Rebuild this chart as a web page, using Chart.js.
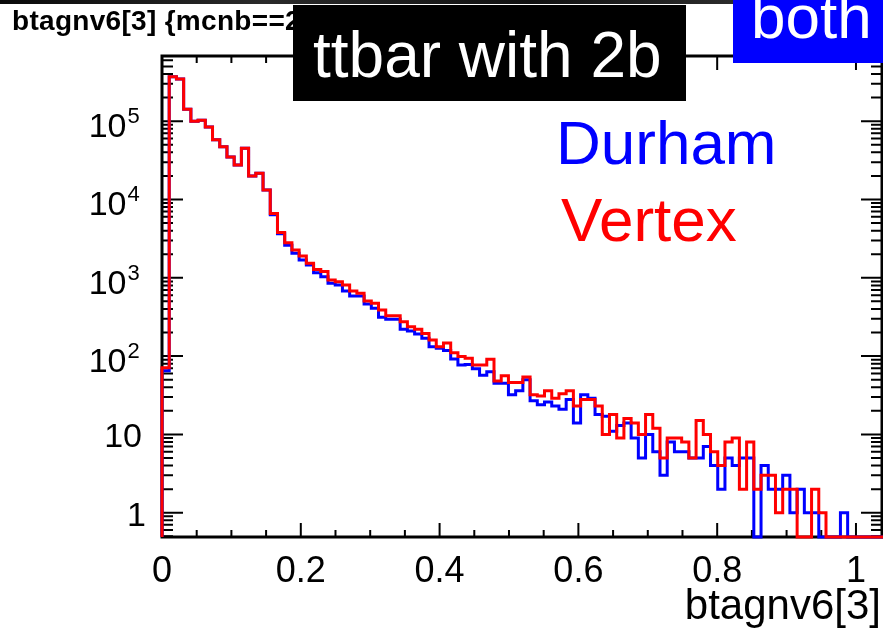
<!DOCTYPE html>
<html><head><meta charset="utf-8">
<script src="https://cdn.jsdelivr.net/npm/chart.js@4/dist/chart.umd.min.js"></script>
<style>
html,body{margin:0;padding:0;background:#fff;overflow:hidden;width:883px;height:630px;}
#wrap{position:relative;width:883px;height:630px;overflow:hidden;background:#fff;}
canvas{position:absolute;left:0;top:0;}
.t{position:absolute;white-space:nowrap;font-family:"Liberation Sans",Arial,Helvetica,sans-serif;line-height:1;}
#band{position:absolute;left:0;top:0;width:883px;height:4px;background:linear-gradient(to right,#0a0a0a,#2a2a2a 30%,#111 60%,#2e2e2e 85%,#0a0a0a);}
#title{left:12px;top:7px;font-size:28px;font-weight:bold;color:#000;letter-spacing:0.3px;}
#box1{position:absolute;left:293px;top:5px;width:393px;height:96px;background:#000;}
#box1 .t{left:20px;top:18px;font-size:64px;color:#fff;}
#box2{position:absolute;left:733px;top:0px;width:160px;height:63px;background:#0000ff;overflow:hidden;}
#box2 .t{left:18px;top:-14px;font-size:62px;color:#fff;}
#leg1{left:556px;top:112px;font-size:62px;color:#0000ff;}
#leg2{left:561px;top:189px;font-size:62px;color:#ff0000;}
</style></head><body>
<div id="wrap">
<canvas id="c" width="883" height="630"></canvas>
<div id="band"></div>
<div class="t" id="title">btagnv6[3] {mcnb==2}</div>
<div id="box1"><div class="t">ttbar with 2b</div></div>
<div id="box2"><div class="t">both</div></div>
<div class="t" id="leg1">Durham</div>
<div class="t" id="leg2">Vertex</div>
</div>
<script>
// ---- data ----
const nBins = 100;
const binWidth = 0.0104;           // histogram bin width in btagnv6[3]
const seriesNames = ['Vertex', 'Durham'];
// Vertex (red), counts per bin
const vertexCounts = [
  71, 370000, 345000, 142000, 100000, 103000, 84000, 58000, 47000, 35000,
  27600, 45000, 20000, 21600, 13200, 6600, 3800, 2800, 2260, 1900,
  1530, 1280, 1200, 937, 892, 809, 678, 633, 505, 472,
  388, 328, 328, 275, 237, 220, 195, 160, 132, 147,
  110, 99, 94, 77, 77, 91, 48, 56, 46, 46,
  54, 32, 31, 36, 29, 33, 36, 23, 28, 28,
  23, 10, 18, 9, 16, 14, 10, 18, 12, 5,
  9, 9, 8, 5, 15, 10, 6, 4, 8, 9,
  2, 8, 2, 3, 3, 1, 2, 2, 0, 0,
  2, 1, 0, 0, 0, 0, 0, 0, 0, 0
];
// Durham (blue), counts per bin
const durhamCounts = [
  65, 370000, 345000, 142000, 100000, 103000, 84000, 58000, 47000, 35000,
  27600, 45000, 20000, 21600, 13200, 6400, 3650, 2600, 2060, 1690,
  1460, 1160, 1030, 850, 809, 678, 586, 586, 463, 408,
  313, 295, 295, 220, 209, 191, 169, 132, 126, 118,
  92, 77, 78, 69, 57, 63, 45, 45, 32, 36,
  50, 27, 24, 26, 23, 21, 28, 14, 32, 29,
  18, 17, 11, 13, 14, 9, 5, 10, 6, 3,
  8, 6, 6, 5, 5, 7, 4, 2, 5, 4,
  5, 5, 0, 4, 2, 2, 3, 1, 2, 1,
  1, 0, 0, 0, 1, 0, 0, 0, 0, 0
];
const xTickLabels = ['0', '0.2', '0.4', '0.6', '0.8', '1'];
const xTickValues = [0, 0.2, 0.4, 0.6, 0.8, 1.0];
const yTickValues = [1, 10, 100, 1000, 10000, 100000];
const yTickBase = ['1', '10', '10', '10', '10', '10'];
const yTickExp = ['', '', '2', '3', '4', '5'];
const xTitle = 'btagnv6[3]';

// ---- axis ranges ----
const X_MIN = 0, X_MAX = 1.0375;
const Y_MIN = 0.4896, Y_MAX = 6.8e5;

function histPoints(vals) {
  const pts = [{x: X_MIN, y: Y_MIN}];
  vals.forEach((v, i) => pts.push({x: i * binWidth, y: v > 0 ? v : Y_MIN}));
  const last = vals[vals.length - 1];
  pts.push({x: nBins * binWidth, y: last > 0 ? last : Y_MIN});
  pts.push({x: nBins * binWidth, y: Y_MIN});
  return pts;
}

const FONT = '"Liberation Sans", Arial, Helvetica, sans-serif';

const rootFrame = {
  id: 'rootFrame',
  beforeDatasetsDraw(chart) {
    const {ctx, chartArea: a, scales: {x, y}} = chart;
    ctx.save();
    ctx.strokeStyle = '#000';
    ctx.lineWidth = 2;
    for (let d = -1; d <= 6; d++) {
      for (let m = 1; m <= 9; m++) {
        const v = m * Math.pow(10, d);
        if (v < Y_MIN || v > Y_MAX) continue;
        const py = y.getPixelForValue(v);
        const len = m === 1 ? 21 : 11;
        ctx.beginPath();
        ctx.moveTo(a.left, py); ctx.lineTo(a.left + len, py);
        ctx.moveTo(a.right, py); ctx.lineTo(a.right - len, py);
        ctx.stroke();
      }
    }
    for (let i = 0; i * 0.05 <= X_MAX + 1e-9; i++) {
      const px = x.getPixelForValue(i * 0.05);
      const len = i % 4 === 0 ? 14 : 7;
      ctx.beginPath();
      ctx.moveTo(px, a.bottom); ctx.lineTo(px, a.bottom - len);
      ctx.moveTo(px, a.top); ctx.lineTo(px, a.top + len);
      ctx.stroke();
    }
    ctx.lineWidth = 3;
    ctx.strokeRect(a.left, a.top, a.right - a.left, a.bottom - a.top);
    ctx.restore();
  },
  afterDraw(chart) {
    const {ctx, scales: {x, y}} = chart;
    ctx.save();
    ctx.fillStyle = '#000';
    ctx.font = '36px ' + FONT;
    ctx.textAlign = 'center';
    ctx.textBaseline = 'alphabetic';
    xTickValues.forEach((v, i) => {
      ctx.fillText(xTickLabels[i], x.getPixelForValue(v), 582);
    });
    const R = 142;
    yTickValues.forEach((v, i) => {
      const py = y.getPixelForValue(v);
      if (yTickExp[i]) {
        ctx.font = '22px ' + FONT;
        ctx.textAlign = 'left';
        ctx.fillText(yTickExp[i], 127.5, py + 2);
        ctx.font = '34px ' + FONT;
        ctx.textAlign = 'right';
        ctx.fillText(yTickBase[i], 126.5, py + 16);
      } else {
        ctx.font = '34px ' + FONT;
        ctx.textAlign = 'right';
        const rx = yTickBase[i] === '1' ? R + 4 : R;
        ctx.fillText(yTickBase[i], rx, py + 13);
      }
    });
    ctx.font = '42px ' + FONT;
    ctx.textAlign = 'right';
    ctx.fillText(xTitle, 881, 619);
    ctx.restore();
  }
};

new Chart(document.getElementById('c'), {
  type: 'line',
  data: {
    datasets: [
      {label: seriesNames[0], data: histPoints(vertexCounts), borderColor: '#ff0000',
       borderWidth: 3, stepped: 'before', pointRadius: 0, fill: false,
       clip: {left: 3, right: 3, top: 0, bottom: 3}},
      {label: seriesNames[1], data: histPoints(durhamCounts), borderColor: '#0000ff',
       borderWidth: 3, stepped: 'before', pointRadius: 0, fill: false,
       clip: {left: 3, right: 3, top: 0, bottom: 3}}
    ]
  },
  options: {
    responsive: false,
    animation: false,
    layout: {padding: {left: 162, right: 1, top: 56, bottom: 93}},
    plugins: {legend: {display: false}, tooltip: {enabled: false}},
    scales: {
      x: {type: 'linear', min: X_MIN, max: X_MAX, display: false},
      y: {type: 'logarithmic', min: Y_MIN, max: Y_MAX, display: false}
    }
  },
  plugins: [rootFrame]
});
</script>
</body></html>
